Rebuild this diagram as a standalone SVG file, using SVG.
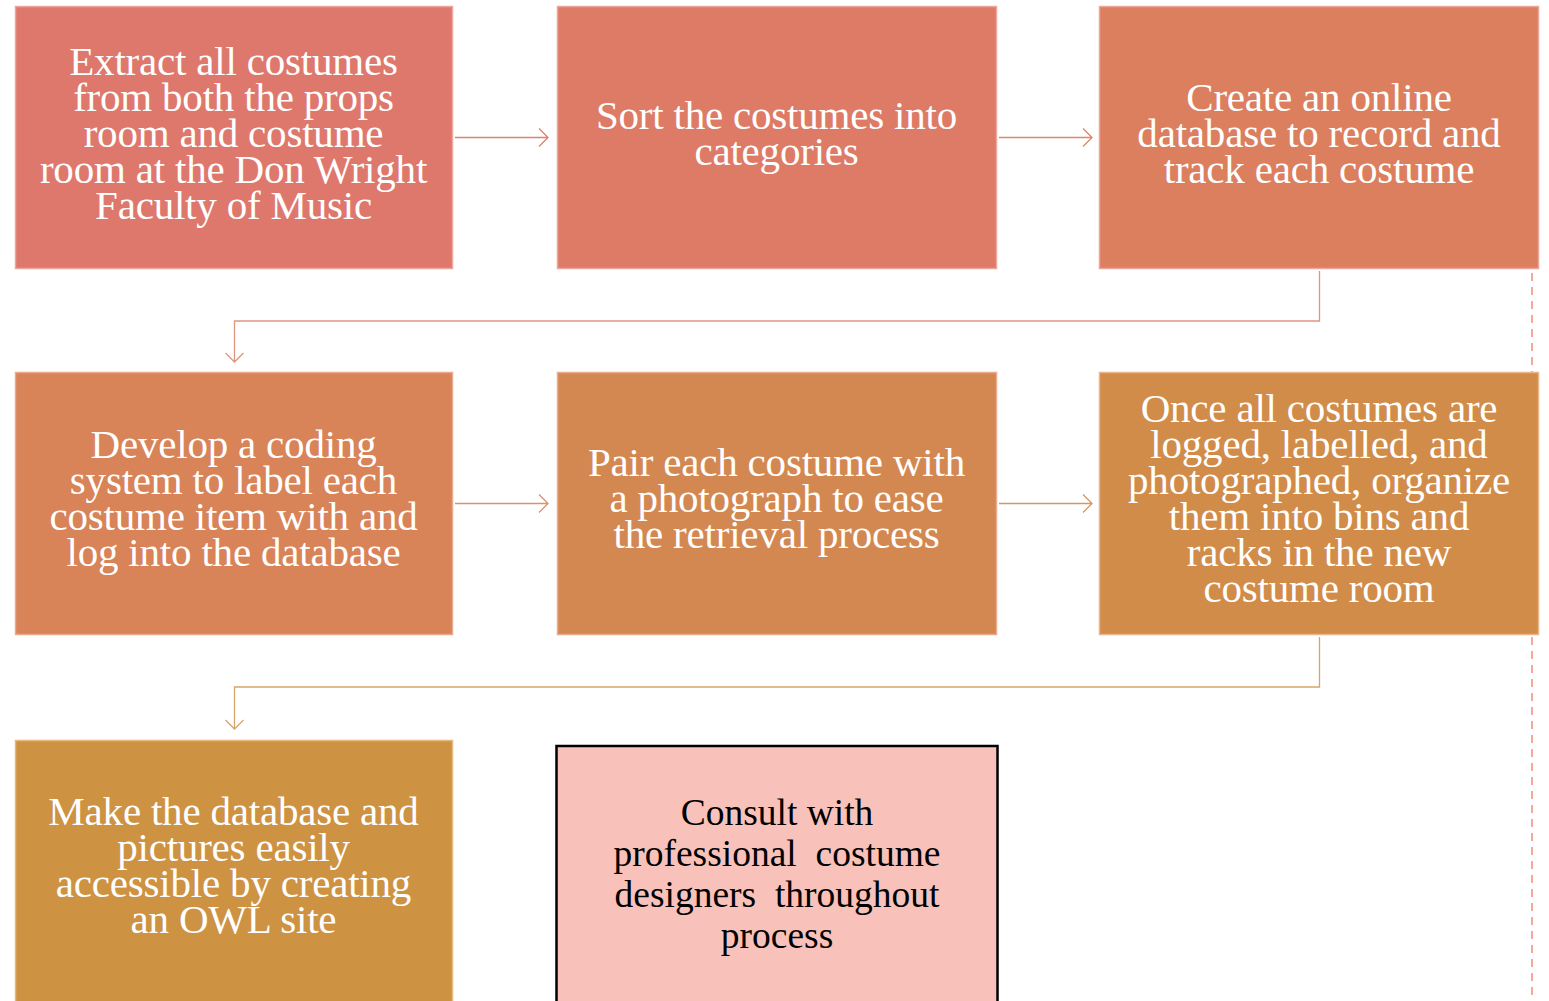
<svg xmlns="http://www.w3.org/2000/svg" width="1549" height="1001" viewBox="0 0 1549 1001">
<style>
.box{stroke-width:1.5}
.t{font-family:"Liberation Serif","DejaVu Serif",serif;font-size:41px;fill:#fff;text-anchor:middle;letter-spacing:-0.2px}
.p{font-family:"Liberation Serif","DejaVu Serif",serif;font-size:37.5px;fill:#000;text-anchor:middle}
.c{fill:none;stroke-width:1.3}
</style>
<rect width="1549" height="1001" fill="#fff"/>
<g id="connectors">
<path fill="none" stroke="#F4A79B" stroke-width="2" stroke-dasharray="8 6" d="M1532 273V1001"/>
<path class="c" stroke="#E0806F" d="M455 137.5H548M539 128.5L548 137.5L539 146.5"/>
<path class="c" stroke="#DD8668" d="M999 137.5H1092M1083 128.5L1092 137.5L1083 146.5"/>
<path class="c" stroke="#DE9580" d="M1319.5 271V321H234.5V362M225.5 353L234.5 362L243.5 353"/>
<path class="c" stroke="#DA9270" d="M455 503.5H548M539 494.5L548 503.5L539 512.5"/>
<path class="c" stroke="#D89464" d="M999 503.5H1092M1083 494.5L1092 503.5L1083 512.5"/>
<path class="c" stroke="#D9A46C" d="M1319.5 637V687H234.5V729M225.5 720L234.5 729L243.5 720"/>
</g>
<g id="n1"><rect class="box" x="15.5" y="6.5" width="437" height="262" fill="#DE786D" stroke="#EDA69D"/>
<text class="t"><tspan x="233.5" y="75">Extract all costumes</tspan><tspan x="233.5" y="111">from both the props</tspan><tspan x="233.5" y="147">room and costume</tspan><tspan x="233.5" y="183">room at the Don Wright</tspan><tspan x="233.5" y="219">Faculty of Music</tspan></text></g>
<g id="n2"><rect class="box" x="557.5" y="6.5" width="439" height="262" fill="#DD7B66" stroke="#EDA69D"/>
<text class="t"><tspan x="776.5" y="129">Sort the costumes into</tspan><tspan x="776.5" y="165">categories</tspan></text></g>
<g id="n3"><rect class="box" x="1099.5" y="6.5" width="439" height="262" fill="#DB7F5F" stroke="#EDA69D"/>
<text class="t"><tspan x="1319" y="111">Create an online</tspan><tspan x="1319" y="147">database to record and</tspan><tspan x="1319" y="183">track each costume</tspan></text></g>
<g id="n4"><rect class="box" x="15.5" y="372.5" width="437" height="262" fill="#D88358" stroke="#EBAA8E"/>
<text class="t"><tspan x="233.5" y="458">Develop a coding</tspan><tspan x="233.5" y="494">system to label each</tspan><tspan x="233.5" y="530">costume item with and</tspan><tspan x="233.5" y="566">log into the database</tspan></text></g>
<g id="n5"><rect class="box" x="557.5" y="372.5" width="439" height="262" fill="#D48851" stroke="#EBAA8E"/>
<text class="t"><tspan x="776.5" y="476">Pair each costume with</tspan><tspan x="776.5" y="512">a photograph to ease</tspan><tspan x="776.5" y="548">the retrieval process</tspan></text></g>
<g id="n6"><rect class="box" x="1099.5" y="372.5" width="439" height="262" fill="#D18C4A" stroke="#EBB48A"/>
<text class="t"><tspan x="1319" y="422">Once all costumes are</tspan><tspan x="1319" y="458">logged, labelled, and</tspan><tspan x="1319" y="494">photographed, organize</tspan><tspan x="1319" y="530">them into bins and</tspan><tspan x="1319" y="566">racks in the new</tspan><tspan x="1319" y="602">costume room</tspan></text></g>
<g id="n7"><rect class="box" x="15.5" y="740.5" width="437" height="262" fill="#CE9243" stroke="#E6B87E"/>
<text class="t"><tspan x="233.5" y="825">Make the database and</tspan><tspan x="233.5" y="861">pictures easily</tspan><tspan x="233.5" y="897">accessible by creating</tspan><tspan x="233.5" y="933">an OWL site</tspan></text></g>
<g id="n8"><rect x="556.5" y="746" width="441" height="260" fill="#F8C2BA" stroke="#000" stroke-width="2.5"/>
<text class="p" xml:space="preserve"><tspan x="777" y="825">Consult with</tspan><tspan x="777" y="866">professional  costume</tspan><tspan x="777" y="907">designers  throughout</tspan><tspan x="777" y="948">process</tspan></text></g>
</svg>
